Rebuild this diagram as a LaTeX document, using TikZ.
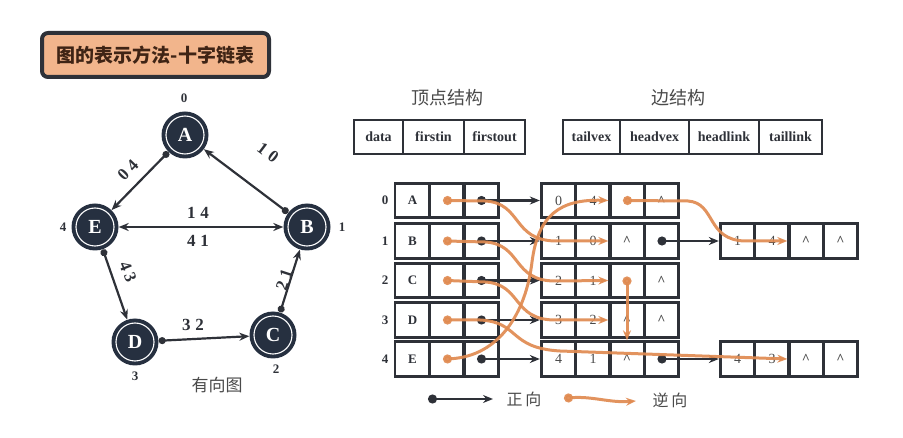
\documentclass[tikz,border=0pt]{standalone}
\usepackage{fontspec}
\setmainfont{Liberation Serif}
\newfontfamily\cjk{Noto Sans CJK SC}
\usetikzlibrary{arrows.meta}
\definecolor{navy}{HTML}{263040}
\definecolor{dk}{HTML}{2E3138}
\definecolor{org}{HTML}{E08A50}
\definecolor{peach}{HTML}{F2B58C}
\definecolor{brn}{HTML}{3F2415}
\definecolor{gtxt}{HTML}{4A4A4A}
\newcommand\fsz[1]{\fontsize{#1}{#1}\selectfont}
\newcommand\crt{\textbf{\textasciicircum}}
\begin{document}
\begin{tikzpicture}[x=1pt,y=-1pt,
  gnode/.style={circle, fill=navy, minimum size=47pt, inner sep=0pt, text=white,
    font=\bfseries\fsz{20},
    path picture={\draw[white,line width=1.1pt] (path picture bounding box.center) circle (19pt);}},
  gedge/.style={draw=dk, line width=2.2pt, {Circle[length=7pt]}-{Stealth[length=10pt,width=8pt]}},
  glabel/.style={font=\bfseries\fsz{17}, text=dk, inner sep=0pt},
  idx/.style={font=\bfseries\fsz{13}, text=dk, inner sep=1pt},
  vcell/.style={draw=dk, line width=2.8pt, minimum width=34.5pt, minimum height=34.5pt, inner sep=0pt, font=\bfseries\fsz{13}, text=dk},
  ecell/.style={draw=dk, line width=2.8pt, minimum width=34.5pt, minimum height=34.5pt, inner sep=0pt, font=\fsz{14}, text=gtxt},
  hcell/.style={draw=dk, line width=2.8pt, minimum height=34pt, inner sep=0pt, font=\bfseries\fsz{14}, text=dk},
  cjkt/.style={font=\cjk\fsz{17}, text=gtxt, inner sep=1pt},
  barrow/.style={draw=dk, line width=2.4pt, {Circle[length=9pt]}-{Stealth[length=10pt,width=8pt]}},
  oarrow/.style={draw=org, line width=3pt, opacity=0.92, {Circle[length=9pt]}-{Stealth[length=10pt,width=8pt]}}
]
\useasboundingbox (0,0) rectangle (903,438);

% title
\node[draw=dk, line width=4pt, fill=peach, rounded corners=6pt, minimum width=227pt, minimum height=44pt, inner sep=0pt,
  font=\cjk\bfseries\fsz{19}, text=brn] (title) at (155.5,55) {图的表示方法-十字链表};

% graph
\node[gnode] (A) at (185,135) {A};
\node[gnode] (E) at (95,227) {E};
\node[gnode] (B) at (307,227) {B};
\node[gnode] (D) at (135,342) {D};
\node[gnode] (C) at (273,335) {C};
\node[idx] (iA) at (184,98) {0};
\node[idx] (iE) at (63,227) {4};
\node[idx] (iB) at (342,227) {1};
\node[idx] (iD) at (135,376) {3};
\node[idx] (iC) at (276,369) {2};
\node[cjkt] (yxt) at (217,385) {有向图};

\draw[gedge] (A) -- (E);
\draw[gedge] (B) -- (A);
\draw[draw=dk, line width=2.2pt, {Stealth[length=10pt,width=8pt]}-{Stealth[length=10pt,width=8pt]}] (E) -- (B);
\draw[gedge] (E) -- (D);
\draw[gedge] (D) -- (C);
\draw[gedge] (C) -- (B);

\node[glabel, rotate=46] (l04) at (128,170) {0\hspace{5pt}4};
\node[glabel, rotate=-37] (l10) at (268,153) {1\hspace{5pt}0};
\node[glabel] (l14) at (198,213) {1\hspace{5pt}4};
\node[glabel] (l41) at (198,241) {4\hspace{5pt}1};
\node[glabel, rotate=-68] (l43) at (128,272) {4\hspace{4pt}3};
\node[glabel] (l32) at (193,325) {3\hspace{5pt}2};
\node[glabel, rotate=72] (l21) at (284,280) {2\hspace{4pt}1};

% headers
\node[cjkt, font=\cjk\fsz{18}] (vh) at (447,98) {顶点结构};
\node[cjkt, font=\cjk\fsz{18}] (eh) at (678,98) {边结构};
\node[hcell, minimum width=49pt] (h1) at (378.5,137) {data};
\node[hcell, minimum width=61pt] (h2) at (433.5,137) {firstin};
\node[hcell, minimum width=61pt] (h3) at (494.5,137) {firstout};
\node[hcell, minimum width=57pt] (h4) at (591.5,137) {tailvex};
\node[hcell, minimum width=69pt] (h5) at (654.5,137) {headvex};
\node[hcell, minimum width=70pt] (h6) at (724,137) {headlink};
\node[hcell, minimum width=63pt] (h7) at (790.5,137) {taillink};

% vertex table
\foreach \r/\L/\y in {0/A/200.5,1/B/241,2/C/280.5,3/D/320,4/E/359} {
  \node[idx] (r\r) at (385,\y) {\r};
  \node[vcell, minimum width=35pt] (v\r-a) at (412.5,\y) {\L};
  \node[vcell] (v\r-b) at (447,\y) {};
  \node[vcell] (v\r-c) at (481,\y) {};
}

% edge table
\foreach \r/\y/\p/\q/\s/\t in {0/200.5/0/4/{}/\crt, 1/241/1/0/\crt/{}, 2/280.5/2/1/{}/\crt, 3/320/3/2/\crt/\crt, 4/359/4/1/\crt/{}} {
  \node[ecell] (e\r-a) at (558.5,\y) {\p};
  \node[ecell] (e\r-b) at (593,\y) {\q};
  \node[ecell] (e\r-c) at (627,\y) {\s};
  \node[ecell] (e\r-d) at (661.5,\y) {\t};
}

% extra edge nodes
\node[ecell] (x1-a) at (737.5,241) {1};
\node[ecell] (x1-b) at (772,241) {4};
\node[ecell] (x1-c) at (806,241) {\crt};
\node[ecell] (x1-d) at (840.5,241) {\crt};
\node[ecell] (x2-a) at (737.5,359) {4};
\node[ecell] (x2-b) at (772,359) {3};
\node[ecell] (x2-c) at (806,359) {\crt};
\node[ecell] (x2-d) at (840.5,359) {\crt};

% black (forward) arrows
\foreach \r in {0,...,4} { \draw[barrow, shorten <=-4pt] (v\r-c.center) -- (e\r-a.west); }
\draw[barrow, shorten <=-4pt] (e1-d.center) -- (x1-a.west);
\draw[barrow, shorten <=-4pt] (e4-d.center) -- (x2-a.west);

% orange (reverse) arrows
\draw[oarrow, shorten <=-4pt] (v0-b.center) -- (485,201) .. controls (522,203) and (512,240) .. (555,241) -- (e1-c.west);
\draw[oarrow, shorten <=-4pt] (v1-b.center) -- (485,242) .. controls (522,244) and (512,281) .. (555,281) -- (e2-c.west);
\draw[oarrow, shorten <=-4pt] (v2-b.center) -- (485,282) .. controls (522,284) and (512,320) .. (555,320) -- (e3-c.west);
\draw[oarrow, shorten <=-4pt] (v3-b.center) -- (480,320) .. controls (520,322) and (508,348) .. (560,351) -- (x2-c.west);
\draw[oarrow, shorten <=-4pt] (v4-b.center) .. controls (500,356) and (526,312) .. (532,262) .. controls (538,215) and (560,199) .. (e0-c.west);
\draw[oarrow, shorten <=-4pt] (e0-c.center) -- (688,201) .. controls (716,203) and (706,240) .. (745,241) -- (x1-c.west);
\draw[oarrow, shorten <=-4pt] (e2-c.center) -- (e4-c.north);

% legend
\coordinate (lg1) at (432,399);
\coordinate (lg2) at (493,399);
\coordinate (lg3) at (568,398);
\coordinate (lg4) at (636,401);
\draw[barrow, shorten <=-4pt] (lg1) -- (lg2);
\draw[oarrow, shorten <=-4pt] (lg3) .. controls (592,396) and (610,403) .. (lg4);
\node[cjkt, font=\cjk\fsz{16}] (zx) at (524,399) {正\,向};
\node[cjkt, font=\cjk\fsz{16}] (nx) at (670,400) {逆\,向};
\end{tikzpicture}
\end{document}
